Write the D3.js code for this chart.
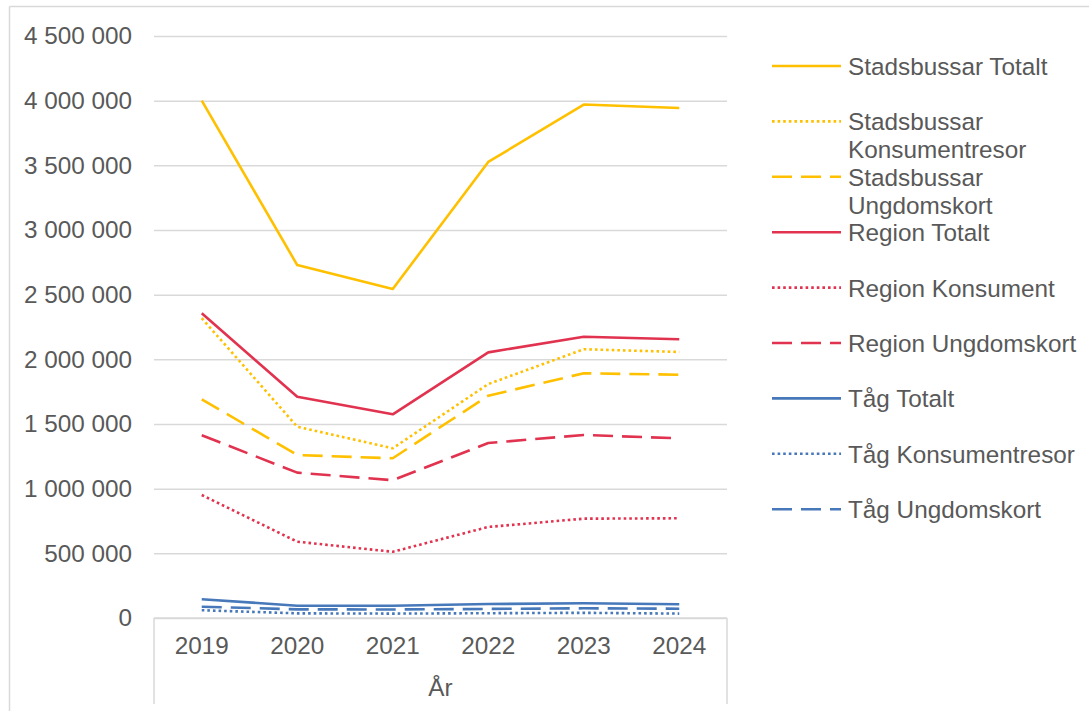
<!DOCTYPE html>
<html>
<head>
<meta charset="utf-8">
<script src="https://cdn.jsdelivr.net/npm/d3@7/dist/d3.min.js"></script>
<style>
  html, body { margin: 0; padding: 0; background: #fff; }
  svg { display: block; font-family: "Liberation Sans", Arial, sans-serif; }
</style>
</head>
<body>
<svg id="chart" width="1089" height="711"></svg>
<script>
// ---- data ----
const years = ["2019", "2020", "2021", "2022", "2023", "2024"];
const yTicks = [0, 500000, 1000000, 1500000, 2000000, 2500000, 3000000, 3500000, 4000000, 4500000];
const xAxisTitle = "År";

const stadsbussarTotalt        = [4000000, 2729000, 2544000, 3526000, 3970000, 3943000];
const stadsbussarKonsument     = [2318000, 1479000, 1312000, 1809000, 2078000, 2057000];
const stadsbussarUngdomskort   = [1691000, 1260000, 1235000, 1719000, 1892000, 1881000];
const regionTotalt             = [2356000, 1711000, 1575000, 2054000, 2175000, 2155000];
const regionKonsument          = [951000, 590000, 512000, 704000, 768000, 771000];
const regionUngdomskort        = [1413000, 1124000, 1065000, 1353000, 1415000, 1389000];
const tagTotalt                = [145000, 95000, 95000, 108000, 114000, 106000];
const tagKonsument             = [60000, 36000, 34000, 37000, 40000, 34000];
const tagUngdomskort           = [87000, 67000, 66000, 70000, 75000, 72000];

const seriesNames = [
  ["Stadsbussar Totalt"],
  ["Stadsbussar", "Konsumentresor"],
  ["Stadsbussar", "Ungdomskort"],
  ["Region Totalt"],
  ["Region Konsument"],
  ["Region Ungdomskort"],
  ["Tåg Totalt"],
  ["Tåg Konsumentresor"],
  ["Tåg Ungdomskort"]
];
const seriesValues = [
  stadsbussarTotalt, stadsbussarKonsument, stadsbussarUngdomskort,
  regionTotalt, regionKonsument, regionUngdomskort,
  tagTotalt, tagKonsument, tagUngdomskort
];

// ---- styles ----
const YELLOW = "#FFC000", RED = "#E1334F", BLUE = "#4678BA";
const colors = [YELLOW, YELLOW, YELLOW, RED, RED, RED, BLUE, BLUE, BLUE];
const DASH = { solid: null, dot: "2.6,3", dash: "20,9" };
const dashes = ["solid", "dot", "dash", "solid", "dot", "dash", "solid", "dot", "dash"];
const TEXT = "#595959", GRID = "#D9D9D9";
const FONT = 24.3;

const svg = d3.select("#chart");

// outer chart frame (left & top visible)
svg.append("line").attr("x1", 9.5).attr("x2", 9.5).attr("y1", 6.5).attr("y2", 711)
  .attr("stroke", GRID).attr("stroke-width", 1.5);
svg.append("line").attr("x1", 9.5).attr("x2", 1089).attr("y1", 6.5).attr("y2", 6.5)
  .attr("stroke", GRID).attr("stroke-width", 1.5);

const plotL = 154, plotR = 727, plotT = 36, plotB = 618;

const x = d3.scaleBand().domain(years).range([plotL, plotR]).padding(0);
const y = d3.scaleLinear().domain([0, 4500000]).range([plotB, plotT]);

const locale = d3.formatLocale({ decimal: ",", thousands: " ", grouping: [3], currency: ["", " kr"] });
const fmt = locale.format(",d");

// gridlines
svg.append("g")
  .attr("transform", `translate(${plotL},0)`)
  .call(d3.axisLeft(y).tickValues(yTicks).tickSize(-(plotR - plotL)).tickFormat(""))
  .call(g => g.select(".domain").remove())
  .call(g => g.selectAll("line").attr("stroke", GRID).attr("stroke-width", 1.5));

// y labels
svg.append("g")
  .attr("transform", `translate(${plotL - 19},0)`)
  .call(d3.axisLeft(y).tickValues(yTicks).tickSize(0).tickFormat(fmt))
  .call(g => g.select(".domain").remove())
  .call(g => g.selectAll("text")
    .attr("fill", TEXT).attr("font-size", FONT)
    .attr("font-family", "'Liberation Sans', Arial, sans-serif"));

// x axis box
svg.append("line").attr("x1", plotL).attr("x2", plotR).attr("y1", plotB).attr("y2", plotB)
  .attr("stroke", GRID).attr("stroke-width", 1.5);
svg.append("line").attr("x1", plotL).attr("x2", plotL).attr("y1", plotB).attr("y2", 704)
  .attr("stroke", GRID).attr("stroke-width", 1.5);
svg.append("line").attr("x1", plotR).attr("x2", plotR).attr("y1", plotB).attr("y2", 704)
  .attr("stroke", GRID).attr("stroke-width", 1.5);

svg.append("g")
  .attr("transform", `translate(0,${plotB + 16})`)
  .call(d3.axisBottom(x).tickSize(0))
  .call(g => g.select(".domain").remove())
  .call(g => g.selectAll("text")
    .attr("fill", TEXT).attr("font-size", FONT)
    .attr("font-family", "'Liberation Sans', Arial, sans-serif"));

svg.append("text")
  .attr("x", (plotL + plotR) / 2).attr("y", 687)
  .attr("text-anchor", "middle").attr("dominant-baseline", "central")
  .attr("fill", TEXT).attr("font-size", FONT)
  .text(xAxisTitle);

// lines
const line = d3.line()
  .x((d, i) => x(years[i]) + x.bandwidth() / 2)
  .y(d => y(d));

seriesValues.forEach((vals, i) => {
  svg.append("path")
    .datum(vals)
    .attr("d", line)
    .attr("fill", "none")
    .attr("stroke", colors[i])
    .attr("stroke-width", 2.6)
    .attr("stroke-dasharray", DASH[dashes[i]])
    .attr("stroke-linejoin", "round");
});

// legend
const legX1 = 772, legX2 = 841, legTextX = 848, legY0 = 66, legStep = 55.4;
seriesNames.forEach((name, i) => {
  const cy = legY0 + i * legStep;
  svg.append("line")
    .attr("x1", legX1).attr("x2", legX2).attr("y1", cy).attr("y2", cy)
    .attr("stroke", colors[i]).attr("stroke-width", 2.6)
    .attr("stroke-dasharray", DASH[dashes[i]]);
  const t = svg.append("text")
    .attr("x", legTextX).attr("y", cy)
    .attr("fill", TEXT).attr("font-size", FONT)
    .attr("dominant-baseline", "central");
  name.forEach((ln, j) => {
    t.append("tspan").attr("x", legTextX).attr("dy", j === 0 ? 0 : 28).text(ln);
  });
});
</script>
</body>
</html>
